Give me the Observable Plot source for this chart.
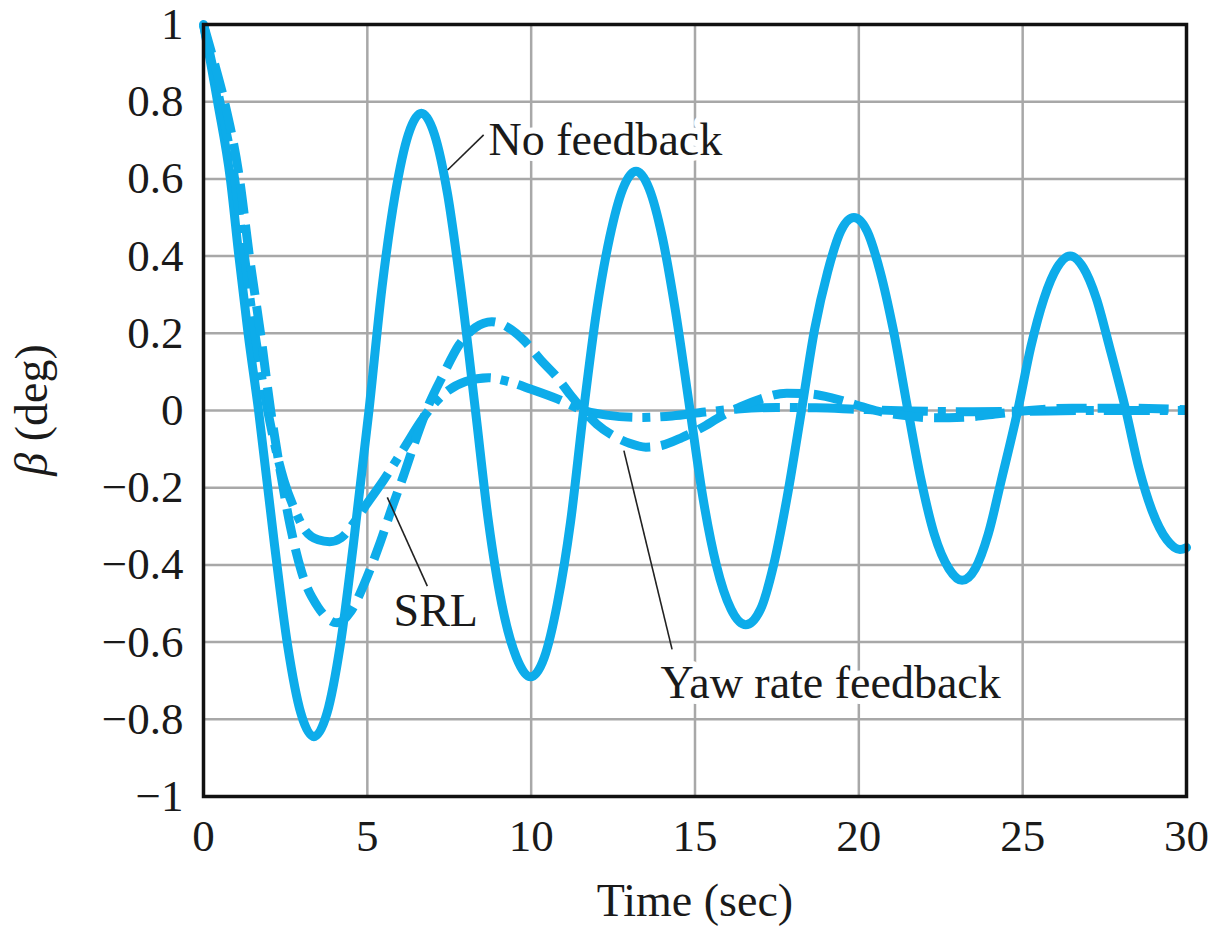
<!DOCTYPE html>
<html>
<head>
<meta charset="utf-8">
<script src="https://cdn.jsdelivr.net/npm/d3@7"></script>
<script src="https://cdn.jsdelivr.net/npm/@observablehq/plot@0.6"></script>
<style>
  html, body { margin: 0; padding: 0; background: #fff; }
  #chart svg { display: block; }
</style>
</head>
<body>
<div id="chart"></div>
<script>
// ---- tick labels ----
const xTicks = [0, 5, 10, 15, 20, 25, 30];
const yTicks = [-1, -0.8, -0.6, -0.4, -0.2, 0, 0.2, 0.4, 0.6, 0.8, 1];

// ---- series: No feedback (solid) ----
const noFbT = [0, 0.43, 0.82, 1.08, 1.36, 1.68, 2.17, 2.57, 2.97, 3.37, 3.77, 4.17, 4.57, 5.05,
  5.45, 5.85, 6.25, 6.65, 7.05, 7.45, 7.85, 8.3,
  8.7, 9.1, 9.55, 9.98, 10.4, 10.8, 11.2, 11.6,
  12.0, 12.4, 12.8, 13.2, 13.6, 14.0, 14.4, 14.85,
  15.25, 15.65, 16.1, 16.55, 17.0, 17.4, 17.8, 18.25,
  18.65, 19.05, 19.45, 19.85, 20.25, 20.65, 21.05, 21.5,
  21.9, 22.3, 22.75, 23.15, 23.55, 23.95, 24.35, 24.85,
  25.25, 25.65, 26.05, 26.45, 26.85, 27.25, 27.65, 28.15,
  28.55, 28.95, 29.4, 29.8, 30];
const noFbB = [1, 0.8, 0.6, 0.4, 0.2, 0, -0.35, -0.61, -0.784, -0.845, -0.784, -0.61, -0.35, 0,
  0.32, 0.56, 0.715, 0.77, 0.715, 0.56, 0.32, 0,
  -0.29, -0.5, -0.64, -0.69, -0.64, -0.5, -0.29, 0,
  0.26, 0.45, 0.575, 0.62, 0.575, 0.45, 0.26, 0,
  -0.23, -0.4, -0.515, -0.555, -0.515, -0.4, -0.23, 0,
  0.21, 0.36, 0.465, 0.5, 0.465, 0.36, 0.21, 0,
  -0.18, -0.32, -0.41, -0.44, -0.41, -0.32, -0.18, 0,
  0.165, 0.29, 0.37, 0.4, 0.37, 0.29, 0.165, 0,
  -0.15, -0.26, -0.335, -0.36, -0.355];

// ---- series: SRL (dash-dot) ----
const srlT = [0, 0.5, 0.95, 1.25, 1.55, 1.85, 2.1, 2.45, 2.8, 3.1, 3.5, 3.85, 4.2, 4.6, 5.0, 5.5,
  6.1, 6.7, 7.3, 8.0, 8.7, 9.3, 10.0, 10.8, 11.6, 12.3, 13.3, 14.3, 15.3, 16.3, 17.5, 18.7,
  20, 21.5, 23, 25, 27, 30];
const srlB = [1, 0.8, 0.6, 0.4, 0.21, 0.05, -0.06, -0.18, -0.26, -0.31, -0.335, -0.34, -0.33, -0.29, -0.24, -0.18,
  -0.1, -0.02, 0.04, 0.075, 0.085, 0.075, 0.055, 0.03, 0, -0.012, -0.018, -0.014, -0.004, 0.004, 0.008, 0.007,
  0.003, -0.001, -0.003, -0.002, 0, 0];

// ---- series: Yaw rate feedback (dashed) ----
const yawT = [0, 0.3, 0.64, 1.1, 1.4, 1.74, 2.05, 2.35, 2.65, 3.0, 3.5, 4.08, 4.5, 4.9, 5.4, 5.8,
  6.1, 6.5, 6.9, 7.3, 7.8, 8.3, 8.8, 9.3, 9.8, 10.3, 10.8, 11.2, 11.6, 12.0, 12.5, 13.0, 13.5,
  14.0, 14.6, 15.2, 15.8, 16.4, 17.0, 17.8, 18.5, 19.2, 19.9, 20.5, 21.3, 22.3, 23.3, 24.3,
  25.2, 26.5, 28, 30];
const yawB = [1, 0.91, 0.8, 0.6, 0.4, 0.2, 0, -0.16, -0.3, -0.42, -0.51, -0.55, -0.52, -0.45, -0.34, -0.24,
  -0.17, -0.07, 0.02, 0.09, 0.17, 0.215, 0.23, 0.215, 0.18, 0.13, 0.085, 0.04, 0, -0.035, -0.065, -0.085, -0.095,
  -0.09, -0.07, -0.045, -0.015, 0.01, 0.03, 0.045, 0.043, 0.032, 0.015, 0, -0.012, -0.019, -0.017, -0.008,
  0, 0.006, 0.006, 0.002];

// ---- annotations (label, anchor in data units) ----
const labelText = ["No feedback", "SRL", "Yaw rate feedback"];
const labelT = [8.7, 5.8, 13.95];
const labelB = [0.662, -0.558, -0.745];
const leadT1 = [8.55, 6.83, 14.3];
const leadB1 = [0.714, -0.455, -0.619];
const leadT2 = [7.45, 5.61, 12.83];
const leadB2 = [0.623, -0.225, -0.104];

const color = "#0DACEA";
const rows = (T, B) => T.map((t, i) => ({t, b: B[i]}));
const labels = labelText.map((s, i) => ({s, t: labelT[i], b: labelB[i]}));
const leaders = leadT1.map((t, i) => ({t1: t, b1: leadB1[i], t2: leadT2[i], b2: leadB2[i]}));

const fmt = d => {
  const v = Math.round(d * 10) / 10;
  if (v === 0) return "0";
  return (v < 0 ? "\u2212" : "") + String(Math.abs(v));
};

const font = "'Liberation Serif', 'Times New Roman', serif";

const chart = Plot.plot({
  width: 1212,
  height: 931,
  marginLeft: 203,
  marginRight: 26,
  marginTop: 24,
  marginBottom: 135,
  style: {fontFamily: font, fontSize: "45px", background: "white", color: "#1a1a1a"},
  x: {domain: [0, 30]},
  y: {domain: [-1, 1]},
  marks: [
    Plot.gridX(xTicks, {stroke: "#a8a8a8", strokeOpacity: 1, strokeWidth: 2.5}),
    Plot.gridY(yTicks, {stroke: "#a8a8a8", strokeOpacity: 1, strokeWidth: 2.5}),
    Plot.axisX(xTicks, {tickSize: 0, tickPadding: 23, tickFormat: fmt, fontSize: 45, label: null}),
    Plot.axisY(yTicks, {tickSize: 0, tickPadding: 20, tickFormat: fmt, fontSize: 45, label: null}),
    Plot.line(rows(noFbT, noFbB), {x: "t", y: "b", stroke: color, strokeWidth: 9, curve: "monotone-x"}),
    Plot.line(rows(srlT, srlB), {x: "t", y: "b", stroke: color, strokeWidth: 9, curve: "monotone-x",
      strokeDasharray: "46,10,8,10", strokeLinecap: "butt"}),
    Plot.line(rows(yawT, yawB), {x: "t", y: "b", stroke: color, strokeWidth: 9, curve: "monotone-x",
      strokeDasharray: "30,11", strokeLinecap: "butt"}),
    Plot.frame({stroke: "#111", strokeWidth: 3.5}),
    Plot.text(labels, {x: "t", y: "b", text: "s", textAnchor: "start", lineAnchor: "bottom",
      fontSize: 46, fill: "#1a1a1a", stroke: "white", strokeWidth: 12}),
    Plot.link(leaders, {x1: "t1", y1: "b1", x2: "t2", y2: "b2", stroke: "#222", strokeWidth: 1.6}),
    Plot.text(["Time (sec)"], {frameAnchor: "bottom", dy: 119, lineAnchor: "bottom", fontSize: 46, fill: "#1a1a1a"})
  ]
});

// y-axis title with italic beta
const svg = d3.select(chart);
const yl = svg.append("text")
  .attr("transform", "translate(47,410) rotate(-90)")
  .attr("text-anchor", "middle")
  .attr("font-family", font)
  .attr("font-size", 46)
  .attr("fill", "#1a1a1a");
yl.append("tspan").attr("font-style", "italic").text("\u03B2");
yl.append("tspan").text(" (deg)");

document.getElementById("chart").appendChild(chart);
</script>
</body>
</html>
